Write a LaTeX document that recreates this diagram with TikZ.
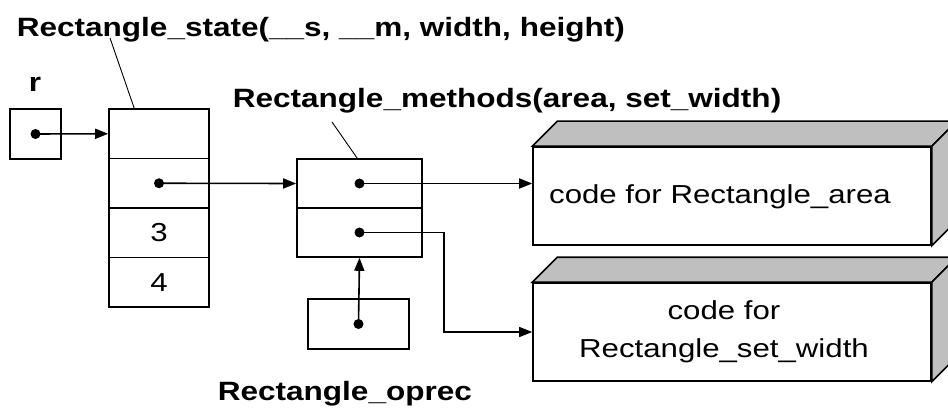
\documentclass[tikz,border=0pt]{standalone}
\usepackage{fontspec}
\setmainfont{Liberation Sans}
\newfontfamily\lblfamily{Liberation Sans}[FakeStretch=1.19]
\newfontfamily\txtfamily{Liberation Sans}[FakeStretch=1.2]
\usetikzlibrary{arrows.meta,calc}
\newcommand{\lblfont}{\lblfamily\fontsize{26.5}{30}\selectfont\bfseries}
\newcommand{\txtfont}{\txtfamily\fontsize{26}{38}\selectfont}
\begin{document}
\begin{tikzpicture}[x=1pt,y=-1pt,line width=1.6pt,
  cell/.style={draw, fill=white, inner sep=0pt, font=\txtfont},
  rcell/.style={cell, minimum width=51pt, minimum height=50pt},
  statecell/.style={cell, minimum width=100pt, minimum height=49.5pt},
  methcell/.style={cell, minimum width=125pt, minimum height=49pt},
  codeface/.style={cell, minimum width=398pt, minimum height=98pt},
  lbl/.style={anchor=base west, inner sep=0pt, font=\lblfont},
  codetext/.style={inner sep=0pt, align=center, font=\txtfont},
  ptr/.style={-{Triangle[length=13pt,width=10pt]}},
  leader/.style={line width=0.9pt},
  side/.style={fill=black!25, draw=black, line join=miter},
  ptrdot/.style={fill=black}
]
\useasboundingbox (0,0) rectangle (948,409);

% pointer variable r
\node[lbl] (rlbl) at (28,92) {r};
\node[rcell] (r) at (35.5,134) {};

% object state record
\node[statecell] (s1) at (159,133.75) {};
\node[statecell] (s2) at (159,183.25) {};
\node[statecell] (s3) at (159,232.75) {3};
\node[statecell] (s4) at (159,282.25) {4};
\node[lbl] (statelbl) at (16,37) {Rectangle\_state(\_\_s, \_\_m, width, height)};
\coordinate (statetag) at (110,38);
\draw[leader] (statetag) -- ($(s1.north west)+(26,0)$);

% method table
\node[methcell] (m1) at (359.5,183.5) {};
\node[methcell] (m2) at (359.5,232.5) {};
\node[lbl] (methlbl) at (232,108) {Rectangle\_methods(area, set\_width)};
\coordinate (methtag) at (332,122);
\draw[leader] (methtag) -- ($(m1.north west)+(61,0)$);

% oprec record
\node[cell, minimum width=101pt, minimum height=50pt] (oprec) at (358.5,324) {};
\node[lbl] (opreclbl) at (217,400) {Rectangle\_oprec};

% code blocks drawn as 3D slabs
\node[codeface] (code1) at (732,196) {};
\filldraw[side] (code1.north west) -- ++(25,-25) -- ($(code1.north east)+(25,-25)$) -- (code1.north east) -- cycle;
\filldraw[side] (code1.north east) -- ++(25,-25) -- ($(code1.south east)+(25,-25)$) -- (code1.south east) -- cycle;
\node[codetext] (code1txt) at ($(code1.center)+(-12,1)$) {code for Rectangle\_area};

\node[codeface] (code2) at (732,332) {};
\filldraw[side] (code2.north west) -- ++(25,-25) -- ($(code2.north east)+(25,-25)$) -- (code2.north east) -- cycle;
\filldraw[side] (code2.north east) -- ++(25,-25) -- ($(code2.south east)+(25,-25)$) -- (code2.south east) -- cycle;
\node[codetext] (code2txt) at ($(code2.center)+(-8,0)$) {code for\\Rectangle\_set\_width};

% pointers
\fill[ptrdot] (r.center) circle (5pt);
\draw[ptr] (r.center) -- (s1.west);
\fill[ptrdot] (s2.center) circle (5pt);
\draw[ptr] (s2.center) -- (m1.west);
\fill[ptrdot] (m1.center) circle (5pt);
\draw[ptr] (m1.center) -- (m1.center -| code1.west);
\fill[ptrdot] (m2.center) circle (5pt);
\coordinate (bend) at (444,332);
\draw[ptr] (m2.center) -| (bend) -- (code2.west);
\fill[ptrdot] (oprec.center) circle (5pt);
\draw[ptr] (oprec.center) -- (m2.south);
\end{tikzpicture}
\end{document}
